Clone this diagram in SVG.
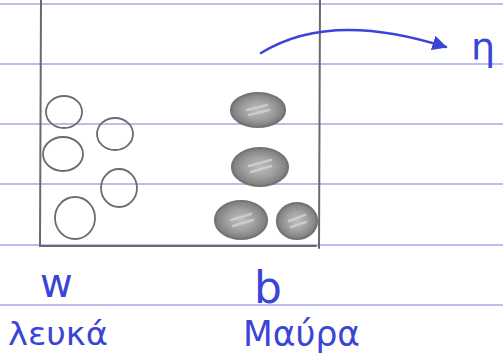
<svg xmlns="http://www.w3.org/2000/svg" width="503" height="363" viewBox="0 0 503 363">
<style>
.rule{stroke:#a3a6ee;stroke-width:1.6;fill:none}
.pencil{stroke:#6a6a6a;stroke-width:2;fill:none;stroke-linecap:round}
.white{fill:none;stroke:#6b6b6b;stroke-width:1.8}
.black{fill:url(#shade);stroke:#747474;stroke-width:2.2}
.streak{stroke:#d8d8d8;stroke-width:2.5;stroke-linecap:round;opacity:.7}
.ink{fill:#3a45d8;font-family:"DejaVu Sans","Liberation Sans",sans-serif}
.arrow{fill:none;stroke:#3a45d8;stroke-width:2.5;stroke-linecap:round}
</style>
<defs>
<radialGradient id="shade" cx="0.5" cy="0.5" r="0.5">
<stop offset="0" stop-color="#bdbdbd"/>
<stop offset="0.55" stop-color="#a0a0a0"/>
<stop offset="1" stop-color="#7c7c7c"/>
</radialGradient>
<marker id="ah" viewBox="0 0 10 10" refX="9" refY="5" markerWidth="6" markerHeight="6" markerUnits="strokeWidth" orient="auto">
<path d="M0,0 L10,5 L0,10 Z" fill="#3a45d8"/>
</marker>
</defs>
<rect width="503" height="363" fill="#ffffff"/>
<g id="paper">
<line class="rule" x1="0" y1="4" x2="503" y2="4"/>
<line class="rule" x1="0" y1="64" x2="503" y2="64"/>
<line class="rule" x1="0" y1="124" x2="503" y2="124"/>
<line class="rule" x1="0" y1="184" x2="503" y2="184"/>
<line class="rule" x1="0" y1="245" x2="503" y2="245"/>
<line class="rule" x1="0" y1="305" x2="503" y2="305"/>
</g>
<g id="box">
<path class="pencil" d="M41,0 L40,246 L316,246"/>
<line class="pencil" x1="320" y1="0" x2="319" y2="248"/>
</g>
<g id="white-balls">
<ellipse class="white" cx="64" cy="112" rx="18" ry="16"/>
<ellipse class="white" cx="115" cy="134" rx="18" ry="16"/>
<ellipse class="white" cx="63" cy="154" rx="20" ry="17"/>
<ellipse class="white" cx="119" cy="188" rx="18" ry="19"/>
<ellipse class="white" cx="75" cy="218" rx="20" ry="21"/>
</g>
<g id="black-balls">
<ellipse class="black" cx="258" cy="110" rx="27" ry="17"/>
<path class="streak" d="M247,110 L267,105 M249,115 L269,110"/>
<ellipse class="black" cx="260" cy="167" rx="28" ry="19"/>
<path class="streak" d="M249,166 L271,160 M251,172 L271,166"/>
<ellipse class="black" cx="241" cy="220" rx="26" ry="19"/>
<path class="streak" d="M231,220 L251,214 M233,226 L253,220"/>
<ellipse class="black" cx="297" cy="221" rx="20" ry="18"/>
<path class="streak" d="M289,221 L305,215 M291,227 L306,222"/>
</g>
<g id="connectors">
<path class="arrow" d="M261,53 Q330,10 446,47" marker-end="url(#ah)"/>
</g>
<g id="label-eta"><text class="ink" x="471" y="60" font-size="38">η</text></g>
<g id="label-w"><text class="ink" x="40" y="297" font-size="40">w</text></g>
<g id="label-b"><text class="ink" x="254" y="303" font-size="44">b</text></g>
<g id="label-lefka"><text class="ink" x="8" y="345" font-size="32" textLength="100" lengthAdjust="spacingAndGlyphs">λευκά</text></g>
<g id="label-mavra"><text class="ink" x="243" y="346" font-size="36" textLength="117" lengthAdjust="spacingAndGlyphs">Μαύρα</text></g>
</svg>
